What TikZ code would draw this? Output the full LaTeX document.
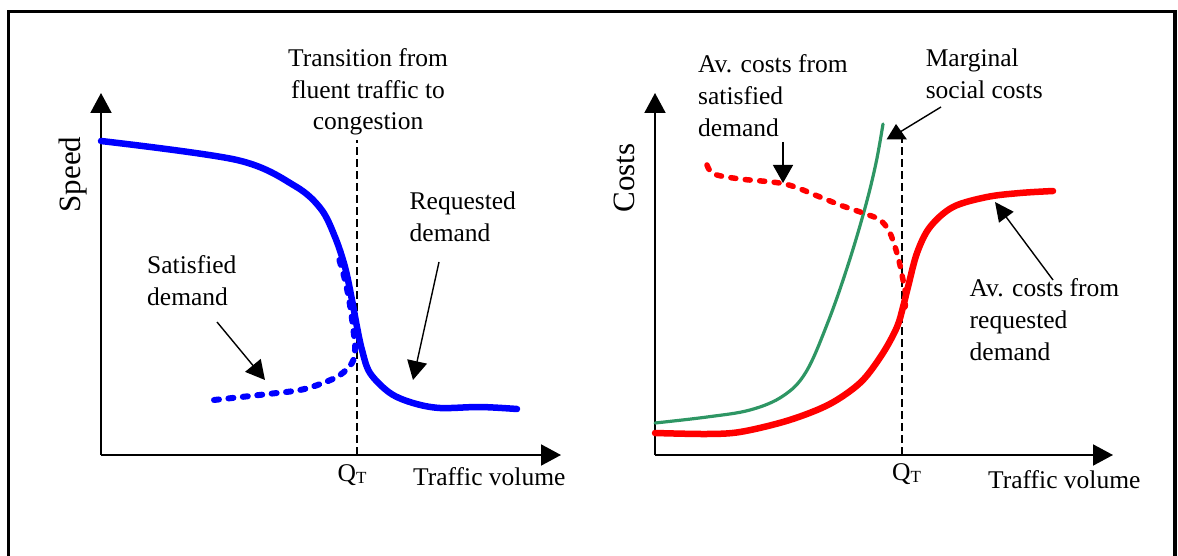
\documentclass[tikz,border=0pt]{standalone}
\usepackage{fontspec}
\setmainfont{Liberation Serif}
\usetikzlibrary{arrows.meta}
\definecolor{cblue}{RGB}{0,0,255}
\definecolor{cred}{RGB}{255,0,0}
\definecolor{cgreen}{RGB}{46,150,100}
\begin{document}
\begin{tikzpicture}[x=1pt,y=-1pt,
  lbl/.style={font=\fontsize{25.5}{31.8}\selectfont, align=left, inner sep=0pt, anchor=base west},
  axlbl/.style={font=\fontsize{31}{36}\selectfont, inner sep=0pt, rotate=90, anchor=base},
  axis/.style={line width=2pt, -{Triangle[width=21pt,length=20pt]}},
  pointer/.style={line width=1.4pt, -{Triangle[width=20pt,length=19pt]}},
  qline/.style={line width=1.6pt, dash pattern=on 8pt off 4pt},
  thickcurve/.style={line width=6.5pt, line cap=round, line join=round},
  dashcurve/.style={line width=6pt, line cap=round, line join=round, dash pattern=on 5pt off 9.5pt},
  frameline/.style={line width=3.3pt}]
\useasboundingbox (0,0) rectangle (1178,556);
% frame
\coordinate (fbl) at (8.3,560);
\coordinate (ftl) at (8.3,11.7);
\coordinate (ftr) at (1175,11.7);
\coordinate (fbr) at (1175,560);
\draw[frameline] (fbl) -- (ftl) -- (ftr) -- (fbr);

% ---------------- left plot ----------------
\coordinate (o1) at (101,455);
\coordinate (y1) at (101,93);
\coordinate (x1) at (561,455);
\draw[axis] (o1) -- (y1);
\draw[axis] (o1) -- (x1);
\coordinate (q1top) at (357,140);
\coordinate (q1bot) at (357,455);
\draw[qline] (q1bot) -- (q1top);

\draw[cblue, thickcurve] plot[smooth, tension=0.55] coordinates {
 (101,141) (237,160) (295,186) (321,209) (335,237) (345,267) (352,300)
 (357,327) (362,350) (370,373) (390,393) (413,403) (440,408) (480,407) (517,409)};
\draw[cblue, dashcurve] plot[smooth, tension=0.55] coordinates {
 (214,400) (268,394) (300,390) (323,383) (340,375) (352,363) (355,350)
 (354,335) (350,305) (345,280) (337,252)};

\node[lbl, align=center, anchor=base] (trans) at (368,130) {Transition from\\ fluent traffic to\\ congestion};
\node[lbl] (req) at (409.5,241) {Requested\\demand};
\node[lbl] (sat) at (147,305) {Satisfied\\demand};
\node[lbl] (q1) at (337.5,481.5) {Q\raisebox{-1.5pt}{\fontsize{17}{17}\selectfont T}};
\node[lbl] (tv1) at (413,485) {Traffic volume};
\node[axlbl] (speed) at (80,174.5) {Speed};

\coordinate (satfrom) at (217,322);
\coordinate (satto) at (265,380);
\draw[pointer] (satfrom) -- (satto);
\coordinate (reqfrom) at (439,262);
\coordinate (reqto) at (413,380);
\draw[pointer] (reqfrom) -- (reqto);

% ---------------- right plot ----------------
\coordinate (o2) at (655,455);
\coordinate (y2) at (655,93);
\coordinate (x2) at (1113,455);
\draw[axis] (o2) -- (y2);
\draw[axis] (o2) -- (x2);
\coordinate (q2top) at (902,139);
\coordinate (q2bot) at (902,455);
\draw[qline] (q2bot) -- (q2top);

\draw[cgreen, line width=3.2pt, line cap=round] plot[smooth, tension=0.6] coordinates {
 (655,423) (707,417) (750,410) (783,396) (806,372) (828,322) (848,265)
 (865,208) (876,163) (883,124)};
\draw[cred, thickcurve] plot[smooth, tension=0.55] coordinates {
 (655,433) (707,434) (740,432) (783,422) (817,410) (840,398) (863,380)
 (883,353) (897,327) (903,307) (908,287) (917,253) (930,227) (953,207)
 (987,197) (1020,193) (1053,191)};
\draw[cred, dashcurve, line width=5.5pt] plot[smooth, tension=0.55] coordinates {
 (707,165) (714,174) (740,179) (785,184) (820,197) (840,205) (863,213)
 (880,220) (890,233) (898,257) (903,280) (906,297) (905,307)};

\node[lbl] (avsat) at (698,136.5) {Av. costs from\\satisfied\\demand};
\node[lbl] (marg) at (925.6,98.6) {Marginal\\social costs};
\node[lbl] (avreq) at (969.5,360) {Av. costs from\\requested\\demand};
\node[lbl] (q2) at (892,480.5) {Q\raisebox{-1.5pt}{\fontsize{17}{17}\selectfont T}};
\node[lbl] (tv2) at (988,488.7) {Traffic volume};
\node[axlbl] (costs) at (634,178) {Costs};

\coordinate (avsatfrom) at (783,142);
\coordinate (avsatto) at (783,183);
\draw[pointer, -{Triangle[width=20pt,length=18pt]}] (avsatfrom) -- (avsatto);
\coordinate (avreqfrom) at (1053,280);
\coordinate (avreqto) at (995,202);
\draw[pointer, -{Triangle[width=18pt,length=19pt]}] (avreqfrom) -- (avreqto);
\coordinate (margfrom) at (941,107);
\coordinate (margto) at (900,132);
\coordinate (mtip) at (896,124);
\coordinate (mbl) at (886.5,139.5);
\coordinate (mbr) at (907,139.5);
\draw[line width=1.4pt] (margfrom) -- (margto);
\fill (mtip) -- (mbl) -- (mbr) -- cycle;
\end{tikzpicture}
\end{document}
